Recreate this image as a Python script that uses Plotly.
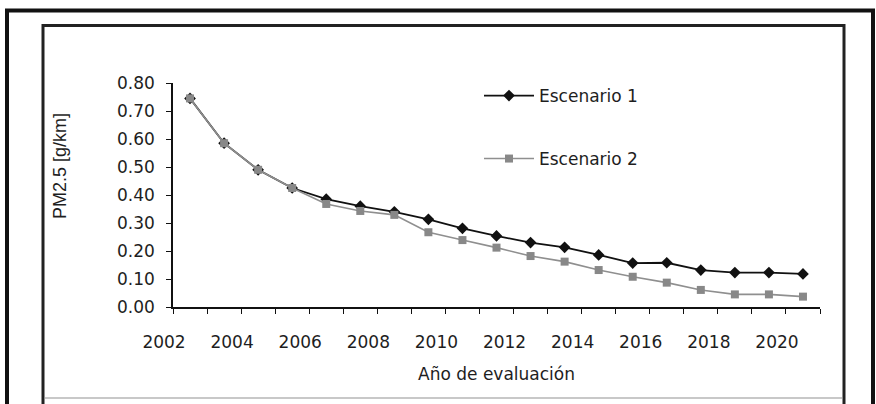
import plotly.graph_objects as go

# Evaluation years and PM2.5 emission factor per scenario [g/km]
years = list(range(2002, 2021))
escenario_1 = [0.745, 0.585, 0.490, 0.425, 0.385, 0.360, 0.340, 0.313, 0.281, 0.254,
               0.230, 0.213, 0.186, 0.157, 0.158, 0.132, 0.123, 0.123, 0.118]
escenario_2 = [0.745, 0.585, 0.490, 0.425, 0.368, 0.343, 0.329, 0.267, 0.239, 0.212,
               0.182, 0.162, 0.132, 0.108, 0.087, 0.061, 0.045, 0.045, 0.037]
tick_years = list(range(2002, 2021, 2))
y_ticks = [0.0, 0.1, 0.2, 0.3, 0.4, 0.5, 0.6, 0.7, 0.8]

W, H = 876, 404
L, R, T, B = 173, 820, 83, 307          # plot area in pixels

# each value sits in the middle of its year interval
x_mid = [y + 0.5 for y in years]

FONT = "DejaVu Sans"
INK = "#1e1e1e"


def px(x):
    return (x - L) / (R - L)


def py(y):
    return (B - y) / (B - T)


fig = go.Figure()
fig.add_trace(go.Scatter(
    x=x_mid, y=escenario_1, name="Escenario 1", mode="lines+markers",
    line=dict(color="#111111", width=1.8),
    marker=dict(symbol="diamond", size=9, color="#111111"),
    legend="legend",
))
fig.add_trace(go.Scatter(
    x=x_mid, y=escenario_2, name="Escenario 2", mode="lines+markers",
    line=dict(color="#8f8f8f", width=1.6),
    marker=dict(symbol="square", size=8, color="#888888"),
    legend="legend2",
))

# page frames
frames = [
    dict(x0=7, y0=10.5, x1=873, y1=430, w=4, c="#111111"),
    dict(x0=43, y0=25.5, x1=844, y1=420, w=3, c="#222222"),
]
shapes = [
    dict(type="rect", xref="paper", yref="paper",
         x0=px(f["x0"]), x1=px(f["x1"]), y0=py(f["y1"]), y1=py(f["y0"]),
         line=dict(color=f["c"], width=f["w"]), fillcolor="rgba(0,0,0,0)")
    for f in frames
]
shapes.append(dict(type="line", xref="paper", yref="paper",
                   x0=px(45), x1=px(842), y0=py(398), y1=py(398),
                   line=dict(color="#c8c8c8", width=2)))

legend_common = dict(
    xanchor="left", yanchor="middle", bgcolor="rgba(0,0,0,0)",
    font=dict(family=FONT, size=17, color=INK), itemwidth=50,
    borderwidth=0, tracegroupgap=0,
)

fig.update_layout(
    width=W, height=H,
    margin=dict(l=L, r=W - R, t=T, b=H - B, pad=0),
    paper_bgcolor="white", plot_bgcolor="white",
    font=dict(family=FONT, size=17, color=INK),
    showlegend=True,
    legend=dict(x=px(479), y=py(96), **legend_common),
    legend2=dict(x=px(479), y=py(159), **legend_common),
    shapes=shapes,
    annotations=[dict(
        text="PM2.5 [g/km]", textangle=-90, showarrow=False,
        xref="paper", yref="paper", x=px(60), y=py(166),
        xanchor="center", yanchor="middle",
        font=dict(family="Liberation Sans", size=18, color=INK),
    )],
    xaxis=dict(
        range=[2002, 2021], tickmode="array", tickvals=tick_years,
        ticktext=[str(t) for t in tick_years],
        ticks="outside", ticklen=5, tickwidth=1.3, tickcolor="#111111",
        minor=dict(dtick=1, tick0=2002, ticks="outside", ticklen=5,
                   tickwidth=1.3, tickcolor="#111111"),
        showline=True, linecolor="#111111", linewidth=1.6,
        showgrid=False, zeroline=False,
        ticklabelshift=-9, ticklabelstandoff=14,
        tickfont=dict(family=FONT, size=17, color=INK),
        title=dict(text="Año de evaluación", standoff=17,
                   font=dict(family=FONT, size=17, color=INK)),
    ),
    yaxis=dict(
        range=[0, 0.8], tickmode="array", tickvals=y_ticks, tickformat=".2f",
        ticks="outside", ticklen=5, tickwidth=1.3, tickcolor="#111111",
        showline=True, linecolor="#111111", linewidth=1.6,
        showgrid=False, zeroline=False, ticklabelstandoff=8,
        tickfont=dict(family=FONT, size=17, color=INK),
    ),
)

fig.write_html("out.html")
